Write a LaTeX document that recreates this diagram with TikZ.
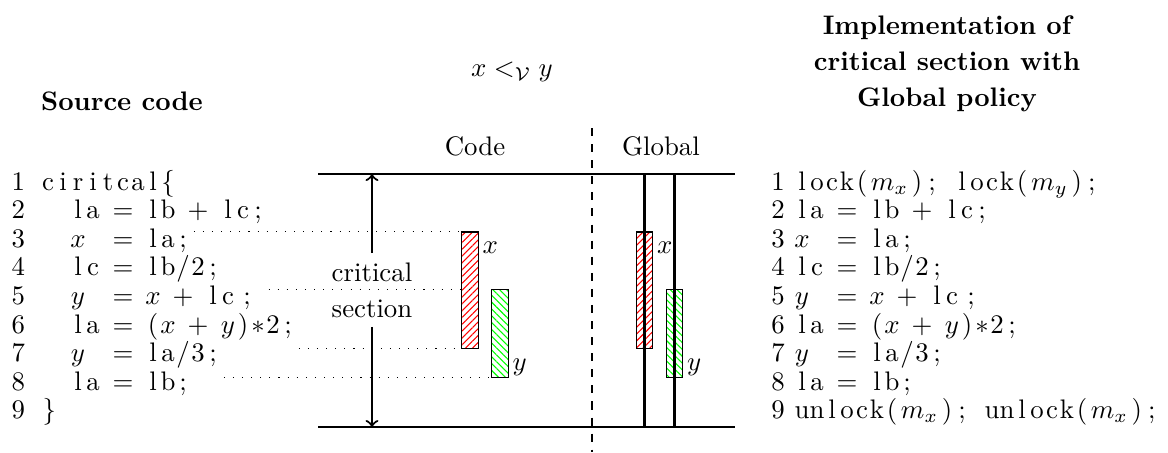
\documentclass[tikz,border=0pt]{standalone}
\usetikzlibrary{patterns.meta}
\ExplSyntaxOn
\dim_new:N \g_codecw_dim
\dim_gset:Nn \g_codecw_dim {5.595pt}
\cs_new_protected:Npn \codechar #1
  { \str_if_eq:nnTF {#1} {|} { \hspace*{\g_codecw_dim} } { \makebox[\g_codecw_dim][c]{#1} } }
\cs_new_protected:Npn \codetxt #1 { \str_map_function:nN {#1} \codechar }
\cs_new_protected:Npn \codemath #1 { \makebox[\g_codecw_dim][c]{#1} }
\cs_new_protected:Npn \codewide #1 { \makebox[14.9pt][c]{#1} }
\cs_new_protected:Npn \codenum #1 { \makebox[0pt][r]{#1\hspace*{3.6pt}} }
\cs_new_protected:Npn \codenumwide #1 { \makebox[0pt][r]{#1\hspace*{5.8pt}} }
\ExplSyntaxOff
\begin{document}
\begin{tikzpicture}[x=0.373pt,y=-0.373pt,
  title/.style={font=\bfseries, anchor=base, inner sep=0pt},
  plainlabel/.style={anchor=base, inner sep=0pt},
  codeline/.style={anchor=base west, inner sep=0pt},
  rect/.style={draw, line width=0.4pt, minimum width=6pt, inner sep=0pt},
  redhatch/.style={rect, minimum height=43.3pt, pattern={Lines[angle=45,distance=1.8pt,line width=0.4pt]}, pattern color=red},
  greenhatch/.style={rect, minimum height=32.5pt, pattern={Lines[angle=-45,distance=1.8pt,line width=0.4pt]}, pattern color=green},
  xlab/.style={anchor=north west, inner xsep=1.3pt, inner ysep=3.6pt},
  ylab/.style={anchor=south west, inner xsep=1.3pt, inner ysep=0.5pt},
  dotline/.style={line width=0.4pt, dash pattern=on 0.4pt off 3pt, shorten <=1pt},
  rule/.style={line width=0.4pt},
  lockline/.style={line width=0.8pt}
]
\useasboundingbox (0,0) rectangle (1168,452);

% titles
\node[title] (src) at (122,110) {Source code};
\node[title] (imp1) at (947,34) {Implementation of};
\node[title] (imp2) at (947,70) {critical section with};
\node[title] (imp3) at (947,106) {Global policy};
\node[plainlabel] (rel) at (512,76) {$x <_{\mathcal{V}} y$};
\node[plainlabel] (codeh) at (475,155) {Code};
\node[plainlabel] (globh) at (661,155) {Global};

% source listing
\node[codeline] (L1) at (40,190) {\codenumwide{1}\codetxt{ciritcal}\codemath{$\{$}};
\node[codeline] (L2) at (40,218.6) {\codenumwide{2}\codetxt{||la|=|lb|+|lc;}};
\node[codeline] (L3) at (40,247.2) {\codenumwide{3}\codetxt{||}\codemath{$x$}\codetxt{||=|la;}};
\node[codeline] (L4) at (40,275.8) {\codenumwide{4}\codetxt{||lc|=|lb/2;}};
\node[codeline] (L5) at (40,304.4) {\codenumwide{5}\codetxt{||}\codemath{$y$}\codetxt{||=|}\codemath{$x$}\codetxt{|+|lc}\hspace*{1.5pt}\codetxt{;}};
\node[codeline] (L6) at (40,333) {\codenumwide{6}\codetxt{||la|=|(}\codemath{$x$}\codetxt{|+|}\codemath{$y$}\codetxt{)}\codemath{$\ast$}\codetxt{2;}};
\node[codeline] (L7) at (40,361.6) {\codenumwide{7}\codetxt{||}\codemath{$y$}\codetxt{||=|la/3;}};
\node[codeline] (L8) at (40,390.2) {\codenumwide{8}\codetxt{||la|=|lb;}};
\node[codeline] (L9) at (40,418.8) {\codenumwide{9}\hspace*{0.5pt}\codemath{$\}$}};

% implementation listing
\node[codeline] (R1) at (794,190) {\codenum{1}\codetxt{lock(}\codewide{$m_x$}\codetxt{);|lock(}\codewide{$m_y$}\codetxt{);}};
\node[codeline] (R2) at (794,218.6) {\codenum{2}\codetxt{la|=|lb|+|lc;}};
\node[codeline] (R3) at (794,247.2) {\codenum{3}\codemath{$x$}\codetxt{||=|la;}};
\node[codeline] (R4) at (794,275.8) {\codenum{4}\codetxt{lc|=|lb/2;}};
\node[codeline] (R5) at (794,304.4) {\codenum{5}\codemath{$y$}\codetxt{||=|}\codemath{$x$}\codetxt{|+|lc}\hspace*{1.5pt}\codetxt{;}};
\node[codeline] (R6) at (794,333) {\codenum{6}\codetxt{la|=|(}\codemath{$x$}\codetxt{|+|}\codemath{$y$}\codetxt{)}\codemath{$\ast$}\codetxt{2;}};
\node[codeline] (R7) at (794,361.6) {\codenum{7}\codemath{$y$}\codetxt{||=|la/3;}};
\node[codeline] (R8) at (794,390.2) {\codenum{8}\codetxt{la|=|lb;}};
\node[codeline] (R9) at (794,418.8) {\codenum{9}\codetxt{unlock(}\codewide{$m_x$}\codetxt{);|unlock(}\codewide{$m_x$}\codetxt{);}};

% frame lines
\coordinate (tl) at (318,174);
\coordinate (tr) at (735,174);
\coordinate (bl) at (318,427);
\coordinate (br) at (735,427);
\coordinate (dtop) at (592,128);
\coordinate (dbot) at (592,452);
\draw[rule] (tl) -- (tr);
\draw[rule] (bl) -- (br);
\draw[rule, dashed] (dtop) -- (dbot);

% critical section arrow
\node[align=center, inner sep=3.33pt] (cs) at (372,290) {critical\\[1.4pt]section};
\draw[lockline, ->] (cs.north) -- (cs.north |- tl);
\draw[lockline, ->] (cs.south) -- (cs.south |- bl);

% code accesses
\node[redhatch] (cx) at (470,290) {};
\node[greenhatch] (cy) at (500,333.5) {};
\node[xlab] (cxl) at (cx.north east) {$x$};
\node[ylab] (cyl) at (cy.south east) {$y$};

% global accesses
\node[redhatch] (gx) at (644.5,290) {};
\node[greenhatch] (gy) at (674.5,333.5) {};
\draw[lockline] (gx.center |- tl) -- (gx.center |- bl);
\draw[lockline] (gy.center |- tl) -- (gy.center |- bl);
\node[xlab] (gxl) at (gx.north east) {$x$};
\node[ylab] (gyl) at (gy.south east) {$y$};

% dotted guides
\draw[dotline] (L3.east |- cx.north west) -- (cx.north west);
\draw[dotline, shorten <=5pt] (L5.east |- cy.north west) -- ([xshift=0.7pt]cx.north east |- cy.north west);
\draw[dotline] (L6.east |- cx.south west) -- (cx.south west);
\draw[dotline] (L7.east |- cy.south west) -- (cy.south west);
\end{tikzpicture}
\end{document}
